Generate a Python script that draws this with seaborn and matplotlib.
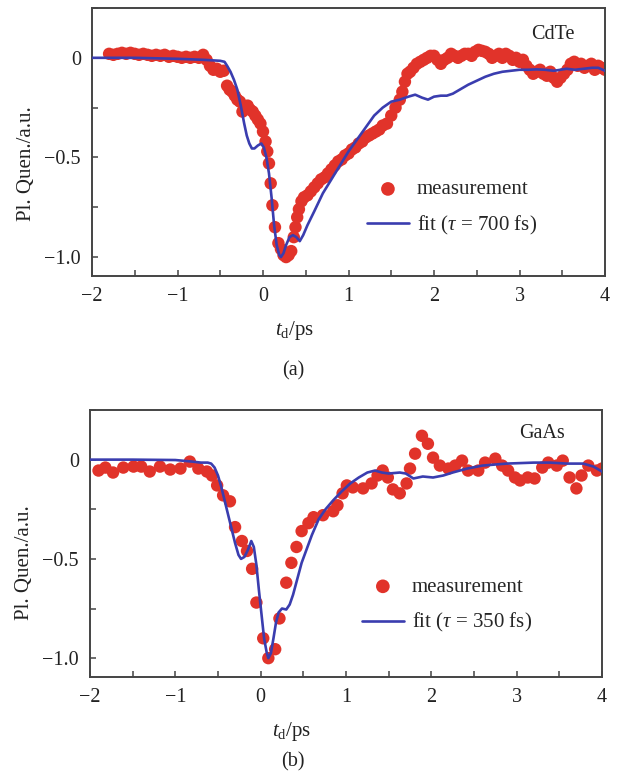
import numpy as np
import pandas as pd
import matplotlib
matplotlib.use("Agg")
import matplotlib.pyplot as plt
from matplotlib.ticker import MultipleLocator
import seaborn as sns

# ---- CdTe: measured PL quenching ----
cdte_t = [-1.80, -1.75, -1.70, -1.65, -1.60, -1.55, -1.50, -1.45, -1.40, -1.35,
          -1.30, -1.25, -1.20, -1.15, -1.10, -1.05, -1.00, -0.95, -0.90, -0.85,
          -0.80, -0.75, -0.70, -0.66, -0.62, -0.58, -0.54, -0.50, -0.46, -0.42,
          -0.39, -0.36, -0.33, -0.30, -0.27, -0.24, -0.21, -0.18, -0.15, -0.12,
          -0.09, -0.06, -0.03, 0.00, 0.03, 0.05, 0.07, 0.09, 0.11, 0.14,
          0.18, 0.21, 0.24, 0.27, 0.30, 0.33, 0.36, 0.38, 0.40, 0.42,
          0.45, 0.48, 0.52, 0.56, 0.60, 0.64, 0.68, 0.72, 0.76, 0.80,
          0.84, 0.88, 0.92, 0.96, 1.00, 1.04, 1.08, 1.12, 1.16, 1.20,
          1.24, 1.28, 1.32, 1.36, 1.40, 1.45, 1.50, 1.55, 1.60, 1.63,
          1.66, 1.69, 1.72, 1.76, 1.80, 1.84, 1.88, 1.92, 1.96, 2.00,
          2.04, 2.08, 2.12, 2.16, 2.20, 2.24, 2.28, 2.32, 2.36, 2.40,
          2.44, 2.48, 2.52, 2.56, 2.60, 2.64, 2.68, 2.72, 2.76, 2.80,
          2.84, 2.88, 2.92, 2.96, 3.00, 3.04, 3.08, 3.12, 3.16, 3.20,
          3.24, 3.28, 3.32, 3.36, 3.40, 3.44, 3.48, 3.52, 3.56, 3.60,
          3.64, 3.68, 3.72, 3.76, 3.80, 3.84, 3.88, 3.92, 3.96, 4.00]
cdte_pl = [0.020, 0.015, 0.020, 0.025, 0.020, 0.025, 0.020, 0.015, 0.020, 0.015,
           0.010, 0.015, 0.010, 0.015, 0.005, 0.010, 0.005, 0.000, 0.005, 0.000,
           0.005, 0.000, 0.015, -0.010, -0.040, -0.060, -0.055, -0.070, -0.065, -0.140,
           -0.160, -0.170, -0.190, -0.210, -0.220, -0.270, -0.250, -0.240, -0.260, -0.270,
           -0.290, -0.310, -0.330, -0.370, -0.420, -0.470, -0.530, -0.630, -0.740, -0.850,
           -0.930, -0.960, -0.990, -1.000, -0.990, -0.970, -0.900, -0.850, -0.800, -0.760,
           -0.720, -0.700, -0.690, -0.670, -0.650, -0.630, -0.610, -0.600, -0.580, -0.560,
           -0.540, -0.520, -0.510, -0.490, -0.480, -0.460, -0.450, -0.430, -0.420, -0.400,
           -0.390, -0.380, -0.370, -0.360, -0.340, -0.330, -0.290, -0.250, -0.210, -0.170,
           -0.120, -0.080, -0.070, -0.050, -0.030, -0.020, -0.010, 0.000, 0.010, 0.010,
           -0.010, -0.030, -0.010, 0.000, 0.020, 0.010, 0.000, 0.010, 0.020, 0.020,
           0.010, 0.030, 0.040, 0.035, 0.030, 0.020, 0.000, 0.010, 0.020, 0.000,
           0.020, 0.010, -0.010, 0.000, -0.020, -0.010, -0.040, -0.060, -0.080, -0.070,
           -0.060, -0.080, -0.090, -0.070, -0.100, -0.120, -0.100, -0.080, -0.060, -0.030,
           -0.020, -0.040, -0.030, -0.050, -0.040, -0.030, -0.060, -0.040, -0.050, -0.060]

# ---- CdTe: model fit, tau = 700 fs ----
cdte_fit_t = [-2.00, -1.50, -1.00, -0.70, -0.50, -0.45, -0.42, -0.38, -0.34, -0.30,
              -0.26, -0.22, -0.19, -0.16, -0.13, -0.10, -0.06, -0.02, 0.01, 0.04,
              0.07, 0.10, 0.13, 0.16, 0.19, 0.21, 0.24, 0.27, 0.31, 0.35,
              0.39, 0.43, 0.47, 0.52, 0.60, 0.70, 0.80, 0.90, 1.00, 1.10,
              1.20, 1.30, 1.40, 1.50, 1.60, 1.70, 1.78, 1.86, 1.93, 2.00,
              2.08, 2.15, 2.22, 2.30, 2.40, 2.50, 2.60, 2.70, 2.80, 2.90,
              3.00, 3.10, 3.20, 3.30, 3.40, 3.45, 3.55, 3.65, 3.75, 3.85,
              3.92, 4.00]
cdte_fit = [0.000, 0.000, -0.005, -0.010, -0.015, -0.020, -0.040, -0.070, -0.110, -0.160,
            -0.240, -0.330, -0.390, -0.430, -0.455, -0.455, -0.440, -0.430, -0.450, -0.500,
            -0.580, -0.700, -0.840, -0.940, -0.990, -1.000, -0.980, -0.940, -0.900, -0.890,
            -0.900, -0.920, -0.890, -0.840, -0.770, -0.680, -0.610, -0.540, -0.470, -0.410,
            -0.350, -0.290, -0.250, -0.220, -0.210, -0.195, -0.185, -0.200, -0.210, -0.195,
            -0.190, -0.190, -0.180, -0.160, -0.135, -0.115, -0.095, -0.080, -0.070, -0.065,
            -0.060, -0.060, -0.058, -0.060, -0.065, -0.062, -0.055, -0.060, -0.055, -0.050,
            -0.050, -0.065]

# ---- GaAs: measured PL quenching ----
gaas_t = [-1.90, -1.82, -1.73, -1.61, -1.49, -1.40, -1.30, -1.18, -1.06, -0.94,
          -0.83, -0.73, -0.63, -0.57, -0.51, -0.44, -0.36, -0.30, -0.22, -0.16,
          -0.10, -0.05, 0.03, 0.09, 0.17, 0.22, 0.30, 0.36, 0.42, 0.48,
          0.56, 0.62, 0.73, 0.85, 0.90, 0.96, 1.01, 1.08, 1.20, 1.30,
          1.37, 1.43, 1.49, 1.55, 1.63, 1.71, 1.75, 1.81, 1.89, 1.96,
          2.02, 2.10, 2.20, 2.28, 2.36, 2.43, 2.55, 2.63, 2.75, 2.83,
          2.90, 2.98, 3.04, 3.13, 3.21, 3.30, 3.37, 3.47, 3.54, 3.62,
          3.70, 3.76, 3.84, 3.94, 4.00]
gaas_pl = [-0.055, -0.040, -0.065, -0.040, -0.035, -0.035, -0.060, -0.035, -0.050, -0.045,
           -0.010, -0.045, -0.060, -0.080, -0.130, -0.180, -0.210, -0.340, -0.410, -0.460,
           -0.550, -0.720, -0.900, -1.000, -0.955, -0.800, -0.620, -0.520, -0.440, -0.360,
           -0.320, -0.290, -0.280, -0.260, -0.230, -0.170, -0.130, -0.140, -0.145, -0.120,
           -0.080, -0.055, -0.090, -0.150, -0.170, -0.120, -0.045, 0.030, 0.120, 0.080,
           0.010, -0.030, -0.045, -0.030, -0.005, -0.055, -0.055, -0.015, 0.005, -0.030,
           -0.055, -0.090, -0.105, -0.090, -0.095, -0.040, -0.015, -0.030, -0.005, -0.090,
           -0.145, -0.080, -0.030, -0.055, -0.045]

# ---- GaAs: model fit, tau = 350 fs ----
gaas_fit_t = [-2.00, -1.50, -1.00, -0.80, -0.70, -0.62, -0.58, -0.54, -0.50, -0.46,
              -0.42, -0.38, -0.34, -0.30, -0.26, -0.23, -0.19, -0.15, -0.11, -0.08,
              -0.05, -0.02, 0.01, 0.04, 0.07, 0.09, 0.12, 0.15, 0.18, 0.21,
              0.25, 0.30, 0.34, 0.38, 0.43, 0.48, 0.54, 0.60, 0.68, 0.76,
              0.85, 0.95, 1.05, 1.15, 1.25, 1.34, 1.42, 1.50, 1.63, 1.70,
              1.79, 1.90, 2.02, 2.14, 2.25, 2.42, 2.60, 2.88, 3.20, 3.39,
              3.59, 3.78, 3.90, 4.00]
gaas_fit = [0.000, 0.000, -0.002, -0.010, -0.015, -0.015, -0.020, -0.040, -0.080, -0.140,
            -0.210, -0.280, -0.350, -0.420, -0.480, -0.500, -0.490, -0.455, -0.410, -0.440,
            -0.530, -0.660, -0.780, -0.900, -0.970, -1.000, -0.975, -0.900, -0.820, -0.770,
            -0.750, -0.755, -0.730, -0.680, -0.600, -0.520, -0.450, -0.380, -0.300, -0.250,
            -0.205, -0.160, -0.120, -0.090, -0.065, -0.055, -0.065, -0.070, -0.065, -0.070,
            -0.095, -0.085, -0.090, -0.080, -0.065, -0.045, -0.030, -0.020, -0.015, -0.015,
            -0.020, -0.020, -0.035, -0.060]

x_ticks = [-2, -1, 0, 1, 2, 3, 4]
y_ticks = [0, -0.5, -1.0]

DOT_COLOR = "#e1332a"
LINE_COLOR = "#3a3daf"
SPINE_COLOR = "#444444"

sns.set_theme(style="ticks")
plt.rcParams["font.family"] = ["Liberation Serif", "DejaVu Serif"]
plt.rcParams["mathtext.fontset"] = "custom"
plt.rcParams["mathtext.rm"] = "Liberation Serif"
plt.rcParams["mathtext.it"] = "Liberation Serif:italic"
plt.rcParams["mathtext.bf"] = "Liberation Serif:bold"
plt.rcParams["axes.unicode_minus"] = True

fig = plt.figure(figsize=(6.17, 7.81), dpi=100)
ax_top = fig.add_axes([92 / 617, 1 - 276 / 781, 513 / 617, 268 / 781])
ax_bot = fig.add_axes([90 / 617, 1 - 677 / 781, 512 / 617, 267 / 781])

panels = [
    (ax_top, cdte_t, cdte_pl, cdte_fit_t, cdte_fit, "CdTe", (0.94, 0.90),
     r"fit ($\tau$ = 700 fs)", (0.52, 0.39), 0.42, "(a)", 1 - 371 / 781),
    (ax_bot, gaas_t, gaas_pl, gaas_fit_t, gaas_fit, "GaAs", (0.928, 0.912),
     r"fit ($\tau$ = 350 fs)", (0.515, 0.405), 0.427, "(b)", 1 - 762 / 781),
]

for (ax, mt, mv, ft, fv, name, name_pos, fit_label, leg_pos, ylab_y,
     tag, tag_y) in panels:
    meas = pd.DataFrame({"t": mt, "pl": mv})
    fit = pd.DataFrame({"t": ft, "pl": fv})
    sns.scatterplot(data=meas, x="t", y="pl", ax=ax, color=DOT_COLOR, s=80,
                    edgecolor="none", label="measurement", zorder=2)
    sns.lineplot(data=fit, x="t", y="pl", ax=ax, color=LINE_COLOR, lw=1.9,
                 estimator=None, sort=False, label=fit_label, zorder=3)

    ax.set_xlim(-2, 4)
    ax.set_ylim(-1.095, 0.25)
    ax.set_xticks(x_ticks)
    ax.set_yticks(y_ticks)
    ax.set_xticklabels([f"{v:d}".replace("-", "\u2212") for v in x_ticks])
    ax.set_yticklabels(["0", "\u22120.5", "\u22121.0"])
    ax.xaxis.set_minor_locator(MultipleLocator(0.5))
    ax.yaxis.set_minor_locator(MultipleLocator(0.25))
    ax.tick_params(which="both", direction="in", length=4, width=1.1,
                   color=SPINE_COLOR, labelsize=14.5, labelcolor="#222222", pad=8)
    for sp in ax.spines.values():
        sp.set_color(SPINE_COLOR)
        sp.set_linewidth(1.4)

    ax.set_xlabel(r"$t_\mathrm{d}$/ps", fontsize=15, color="#222222")
    ax.xaxis.set_label_coords(0.394, -0.162)
    ax.set_ylabel("Pl. Quen./a.u.", fontsize=15, color="#222222")
    ax.yaxis.set_label_coords(-0.11, ylab_y)

    ax.text(name_pos[0], name_pos[1], name, transform=ax.transAxes, ha="right",
            va="center", fontsize=14.5, color="#222222")

    handles, labels = ax.get_legend_handles_labels()
    ax.legend(handles=handles, labels=labels, loc="upper left", bbox_to_anchor=leg_pos,
              frameon=False, fontsize=15, handlelength=2.0, handletextpad=0.4,
              labelspacing=0.7, borderaxespad=0, markerscale=1.1)

    fig.text(0.475, tag_y, tag, ha="center", va="center", fontsize=14.5, color="#222222")

fig.savefig("out.png", dpi=100)
